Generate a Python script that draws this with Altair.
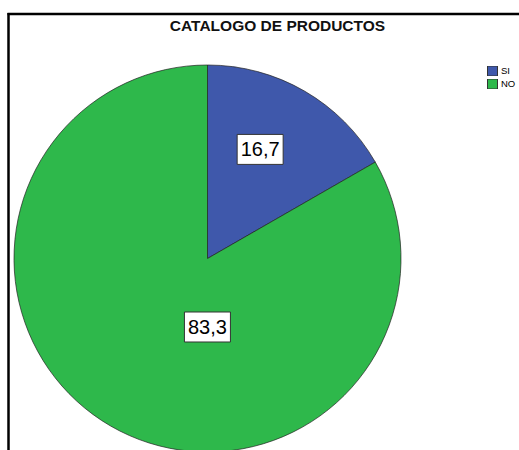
import altair as alt
import pandas as pd

categories = ["SI", "NO"]
percent = [16.7, 83.3]
labels = ["16,7", "83,3"]
order = [1, 2]
colors = ["#3F58AB", "#2EB84B"]

df = pd.DataFrame({"cat": categories, "pct": percent, "label": labels, "ord": order})

W, H = 519, 450
CX, CY, R = 207.5, 258.5, 193.5
FONT = "Liberation Sans"

base = alt.Chart(df)

pie = base.mark_arc(radius=R, stroke="#222222", strokeWidth=0.7).encode(
    theta=alt.Theta("pct:Q", stack=True),
    order=alt.Order("ord:Q"),
    color=alt.Color(
        "cat:N",
        scale=alt.Scale(domain=categories, range=colors),
        legend=alt.Legend(
            orient="none", legendX=487, legendY=66, title=None,
            symbolType="square", symbolSize=100, symbolStrokeColor="#333333",
            symbolStrokeWidth=1, labelFont=FONT, labelFontSize=9.5,
            labelColor="#000000", rowPadding=3, labelOffset=3, padding=0,
            symbolOffset=0, labelLimit=50, clipHeight=10,
        ),
    ),
    x=alt.value(CX),
    y=alt.value(CY),
)

xs = alt.Scale(domain=[-CX / R, (W - CX) / R], nice=False, zero=False)
ys = alt.Scale(domain=[-(H - CY) / R, CY / R], nice=False, zero=False)

lab_base = base.transform_window(
    cum="sum(pct)", sort=[alt.SortField("ord", order="ascending")]
).transform_calculate(
    mid="(datum.cum - datum.pct / 2) / 100 * 2 * PI",
).transform_calculate(
    ang="datum.cat == 'SI' ? datum.mid - 0.075 : datum.mid - PI / 6",
    rr="datum.cat == 'SI' ? 0.626 : 0.354",
).transform_calculate(
    lx="datum.rr * sin(datum.ang)",
    ly="datum.rr * cos(datum.ang)",
)

box_path = "M-1,-0.652L1,-0.652L1,0.652L-1,0.652Z"
boxes = lab_base.mark_point(
    shape=box_path, size=46 * 46, filled=True, fill="white", stroke="#333333",
    strokeWidth=1, opacity=1,
).encode(
    x=alt.X("lx:Q", scale=xs, axis=None),
    y=alt.Y("ly:Q", scale=ys, axis=None),
)

texts = lab_base.mark_text(font=FONT, fontSize=20, color="black", baseline="middle", align="center", dy=1).encode(
    x=alt.X("lx:Q", scale=xs, axis=None),
    y=alt.Y("ly:Q", scale=ys, axis=None),
    text="label:N",
)

title = alt.Chart(pd.DataFrame({"t": ["CATALOGO DE PRODUCTOS"]})).mark_text(
    font=FONT, fontSize=15.5, fontWeight="bold", color="#111111", align="center", baseline="middle"
).encode(x=alt.value(277.5), y=alt.value(26), text="t:N")

left_border = alt.Chart(pd.DataFrame({"a": [0]})).mark_rule(color="black", strokeWidth=2.5).encode(
    x=alt.value(8.5), y=alt.value(13), y2=alt.value(H)
)
top_border = alt.Chart(pd.DataFrame({"a": [0]})).mark_rule(color="black", strokeWidth=2.5).encode(
    x=alt.value(7.5), x2=alt.value(W), y=alt.value(14)
)

chart = alt.layer(left_border, top_border, title, pie, boxes, texts).properties(
    width=W, height=H, autosize=alt.AutoSizeParams(type="none"), padding=0,
).configure_view(stroke=None).resolve_scale(x="shared", y="shared")

chart.save("out.html", embed_options={"renderer": "svg", "actions": False})
